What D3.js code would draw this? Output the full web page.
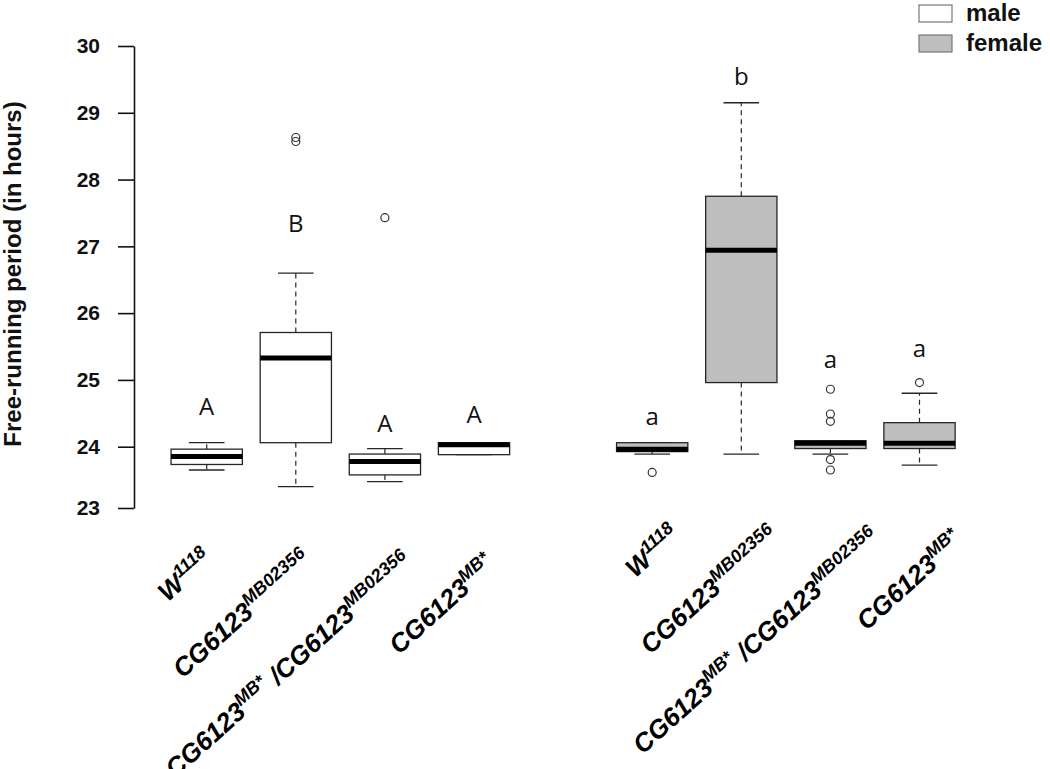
<!DOCTYPE html>
<html><head><meta charset="utf-8">
<script src="https://cdn.jsdelivr.net/npm/d3@7"></script>
<style>body{margin:0;background:#fff}</style>
</head><body>
<svg id="chart" width="1050" height="769"></svg>
<script>
// ---- data ----
const positions   = [1, 2, 3, 4, 6, 7, 8, 9];
const sexes       = ["male","male","male","male","female","female","female","female"];
const whiskerLow  = [23.62, 23.35, 23.43, 23.87, 23.88, 23.88, 23.88, 23.70];
const q1          = [23.71, 24.06, 23.54, 23.87, 23.92, 24.96, 23.97, 23.97];
const medians     = [23.84, 25.33, 23.76, 24.03, 23.96, 26.94, 24.05, 24.05];
const q3          = [23.96, 25.71, 23.88, 24.06, 24.06, 27.75, 24.09, 24.36];
const whiskerHigh = [24.06, 26.60, 23.97, 24.06, 24.06, 29.15, 24.09, 24.80];
const outliers    = [[], [28.63, 28.57], [27.43], [], [23.58], [], [24.86, 24.49, 24.38, 23.79, 23.62], [24.96]];
const letters     = ["A","B","A","A","a","b","a","a"];
const letterY     = [24.47, 27.21, 24.22, 24.35, 24.32, 29.41, 25.18, 25.35];
// label pieces: [text, superscript?]
const xLabels = [
  [["W",0],["1118",1]],
  [["CG6123",0],["MB02356",1]],
  [["CG6123",0],["MB*",1],[" /CG6123",0],["MB02356",1]],
  [["CG6123",0],["MB*",1]]
];
const yTicks = [23, 24, 25, 26, 27, 28, 29, 30];
const legendLabels = ["male", "female"];
const fills = {male: "#ffffff", female: "#bebebe"};

// ---- layout (screen offsets of label ends, per label kind) ----
const labelNudge = [[-17,-10],[-7,-9],[5,-7],[-1,-4]];

// ---- drawing ----
const svg = d3.select("#chart");
svg.append("rect").attr("width",1050).attr("height",769).attr("fill","#fff");

const x = d3.scaleLinear().domain([1, 9]).range([206.7, 919.5]);
const y = d3.scaleLinear().domain([23, 24, 30]).range([508, 446.7, 46]);
const boxW = (x(2) - x(1)) * 0.8;

// y axis
const yAxis = d3.axisLeft(y).tickValues(yTicks).tickFormat(d3.format("d"))
  .tickSize(16).tickSizeOuter(0).tickPadding(18);
const ga = svg.append("g").attr("transform","translate(134,0)").call(yAxis);
ga.selectAll("path,line").attr("stroke","#111").attr("stroke-width",1.6);
ga.selectAll("text").attr("font-family","'Liberation Sans', Arial, sans-serif")
  .attr("font-weight","bold").attr("font-size",21).attr("fill","#111");

svg.append("text")
  .attr("transform","translate(21,274) rotate(-90)")
  .attr("text-anchor","middle")
  .attr("font-family","'Liberation Sans', Arial, sans-serif")
  .attr("font-weight","bold").attr("font-size",24).attr("fill","#111")
  .text("Free-running period (in hours)");

// boxes
const stroke = "#262626";
positions.forEach((p, i) => {
  const cx = x(p);
  const g = svg.append("g");
  g.append("line").attr("x1",cx).attr("x2",cx).attr("y1",y(q3[i])).attr("y2",y(whiskerHigh[i]))
    .attr("stroke",stroke).attr("stroke-width",1.2).attr("stroke-dasharray","5,4");
  g.append("line").attr("x1",cx).attr("x2",cx).attr("y1",y(q1[i])).attr("y2",y(whiskerLow[i]))
    .attr("stroke",stroke).attr("stroke-width",1.2).attr("stroke-dasharray","5,4");
  [whiskerLow[i], whiskerHigh[i]].forEach(v => {
    g.append("line").attr("x1",cx - boxW/4).attr("x2",cx + boxW/4).attr("y1",y(v)).attr("y2",y(v))
      .attr("stroke",stroke).attr("stroke-width",1.3);
  });
  g.append("rect").attr("x",cx - boxW/2).attr("width",boxW)
    .attr("y",y(q3[i])).attr("height",Math.max(0.5, y(q1[i]) - y(q3[i])))
    .attr("fill",fills[sexes[i]]).attr("stroke",stroke).attr("stroke-width",1.3);
  g.append("line").attr("x1",cx - boxW/2).attr("x2",cx + boxW/2).attr("y1",y(medians[i])).attr("y2",y(medians[i]))
    .attr("stroke","#000").attr("stroke-width",5);
  outliers[i].forEach(v => {
    g.append("circle").attr("cx",cx).attr("cy",y(v)).attr("r",4)
      .attr("fill","none").attr("stroke","#333").attr("stroke-width",1.2);
  });
  svg.append("text").attr("x",cx).attr("y",y(letterY[i])).attr("text-anchor","middle")
    .attr("font-family","'Open Sans', sans-serif").attr("font-size",24).attr("fill","#111")
    .text(letters[i]);
});

// x labels
positions.forEach((p, i) => {
  const k = i % 4;
  const parts = xLabels[k];
  const male = sexes[i] === "male";
  const ax = x(p) + (male ? 24 : 46) + labelNudge[k][0];
  const ay = (male ? 571 : 547) + labelNudge[k][1];
  const t = svg.append("text")
    .attr("transform",`translate(${ax},${ay}) rotate(-42)`)
    .attr("text-anchor","end")
    .attr("font-family","'Liberation Sans', Arial, sans-serif")
    .attr("font-weight","bold").attr("font-style","italic").attr("fill","#000");
  let raised = false;
  parts.forEach(([s, sup]) => {
    const ts = t.append("tspan").text(s);
    if (sup) { ts.attr("font-size",18).attr("dy", raised ? 0 : -10); raised = true; }
    else { ts.attr("font-size",26).attr("dy", raised ? 10 : 0); raised = false; }
  });
});

// legend
legendLabels.forEach((lab, i) => {
  const yy = 5 + i * 30;
  svg.append("rect").attr("x",919).attr("y",yy).attr("width",33).attr("height",17)
    .attr("fill",fills[lab]).attr("stroke","#777").attr("stroke-width",1.2);
  svg.append("text").attr("x",966).attr("y",yy + 16)
    .attr("font-family","'Liberation Sans', Arial, sans-serif")
    .attr("font-weight","bold").attr("font-size",24).attr("fill","#111").text(lab);
});
</script>
</body></html>
